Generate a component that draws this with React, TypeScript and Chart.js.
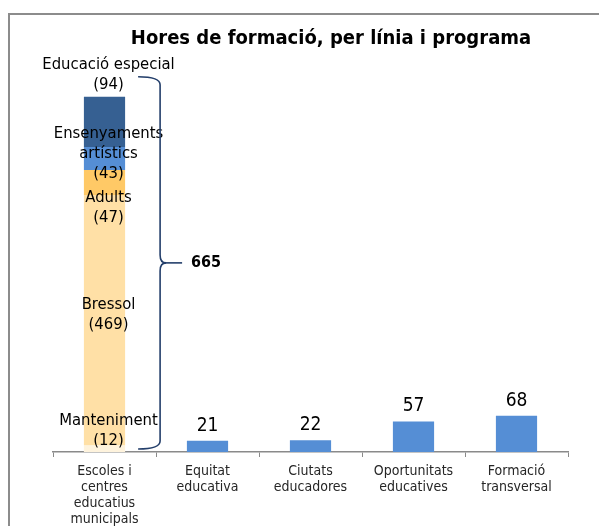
import React, { useEffect, useRef } from "react";
import { Chart, registerables } from "chart.js";

Chart.register(...registerables);

const categories: string[][] = [
  ["Escoles i", "centres", "educatius", "municipals"],
  ["Equitat", "educativa"],
  ["Ciutats", "educadores"],
  ["Oportunitats", "educatives"],
  ["Formació", "transversal"],
];

// Stacked segments of the first column, bottom to top
const stackNames: string[][] = [
  ["Manteniment"],
  ["Bressol"],
  ["Adults"],
  ["Ensenyaments", "artístics"],
  ["Educació especial"],
];
const stackValues: number[] = [12, 469, 47, 43, 94];
const stackTotal = 665;

const otherValues: (number | null)[] = [null, 21, 22, 57, 68];

const titleText = "Hores de formació, per línia i programa";

const stackColors = ["#FEF3DD", "#FFE0A6", "#FFC966", "#558ED5", "#366092"];
const otherColor = "#558ED5";
const labelOffsets = [-18, -6, 25, -5, -47]; // vertical shift of each label from its segment centre
const FONT = "'DejaVu Sans Condensed', 'DejaVu Sans', sans-serif";

const overlay = {
  id: "overlay",
  afterDraw(chart: any) {
    const ctx = chart.ctx as CanvasRenderingContext2D;
    ctx.save();
    // Title
    ctx.fillStyle = "#000";
    ctx.font = `bold 20px ${FONT}`;
    ctx.textAlign = "center";
    ctx.textBaseline = "middle";
    ctx.fillText(titleText, 331, 39);

    // Stack labels
    ctx.font = `16.5px ${FONT}`;
    ctx.fillStyle = "#000";
    for (let i = 0; i < stackValues.length; i++) {
      const el = chart.getDatasetMeta(i).data[0];
      const cy = (el.y + el.base) / 2 + labelOffsets[i];
      const lines = [...stackNames[i], `(${stackValues[i]})`];
      const lh = 20;
      const start = cy - ((lines.length - 1) * lh) / 2;
      lines.forEach((t, k) => ctx.fillText(t, el.x + 4, start + k * lh));
    }

    // Other bar labels
    ctx.font = `19px ${FONT}`;
    const meta = chart.getDatasetMeta(stackValues.length);
    meta.data.forEach((el: any, j: number) => {
      const v = otherValues[j];
      if (v == null) return;
      ctx.fillText(String(v), el.x, el.y - 15);
    });

    // Brace
    const first = chart.getDatasetMeta(0).data[0];
    const yScale = chart.scales.y;
    const top = yScale.getPixelForValue(stackTotal) - 20;
    const bottom = yScale.getPixelForValue(0) - 3;
    const mid = (top + bottom) / 2;
    const bx = first.x + first.width / 2 + 35;
    const lx = bx - 22;
    ctx.strokeStyle = "#243F6B";
    ctx.lineWidth = 1.6;
    ctx.beginPath();
    ctx.moveTo(lx, top);
    ctx.quadraticCurveTo(bx, top, bx, top + 8);
    ctx.lineTo(bx, mid - 8);
    ctx.quadraticCurveTo(bx, mid, bx + 6, mid);
    ctx.quadraticCurveTo(bx, mid, bx, mid + 8);
    ctx.lineTo(bx, bottom - 8);
    ctx.quadraticCurveTo(bx, bottom, lx, bottom);
    ctx.stroke();
    ctx.beginPath();
    ctx.moveTo(bx + 5, mid);
    ctx.lineTo(bx + 22, mid);
    ctx.stroke();

    ctx.font = `bold 16px ${FONT}`;
    ctx.fillText(String(stackTotal), bx + 46, mid);
    ctx.restore();
  },
};

export default function App() {
  const ref = useRef<HTMLCanvasElement>(null);
  useEffect(() => {
    if (!ref.current) return;
    const datasets: any[] = stackValues.map((v, i) => ({
      label: stackNames[i].join(" "),
      data: [v, null, null, null, null],
      backgroundColor: stackColors[i],
      stack: "s",
      barPercentage: 0.4,
      categoryPercentage: 1,
    }));
    datasets.push({
      label: "Altres",
      data: otherValues,
      backgroundColor: otherColor,
      stack: "s",
      barPercentage: 0.4,
      categoryPercentage: 1,
    });
    const chart = new Chart(ref.current, {
      type: "bar",
      data: { labels: categories as any, datasets },
      options: {
        animation: false,
        responsive: false,
        devicePixelRatio: 1,
        layout: { padding: { left: 53, right: 31, top: 30, bottom: 0 } },
        plugins: { legend: { display: false }, tooltip: { enabled: false }, title: { display: false } },
        scales: {
          x: {
            stacked: true,
            grid: { offset: true, drawOnChartArea: false, drawTicks: true, tickLength: 5, color: "#8a8a8a" },
            border: { color: "#8a8a8a", width: 1.5 },
            ticks: {
              autoSkip: false,
              maxRotation: 0,
              minRotation: 0,
              padding: 6,
              color: "#262626",
              font: { family: FONT, size: 14, lineHeight: 16 / 14 },
            },
            afterFit: (s: any) => {
              s.height = 74;
            },
          },
          y: { stacked: true, display: false, min: 0, max: 790 },
        },
      },
      plugins: [overlay],
    });
    return () => chart.destroy();
  }, []);
  return (
    <div style={{ position: "fixed", left: 0, top: 0, width: 599, height: 526, overflow: "hidden", background: "#fff" }}>
      <canvas ref={ref} width={599} height={526} style={{ position: "absolute", left: 0, top: 0 }} />
      <div
        style={{
          position: "absolute",
          left: 8,
          top: 13,
          width: 700,
          height: 700,
          border: "2px solid #8c8c8c",
          pointerEvents: "none",
        }}
      />
    </div>
  );
}
